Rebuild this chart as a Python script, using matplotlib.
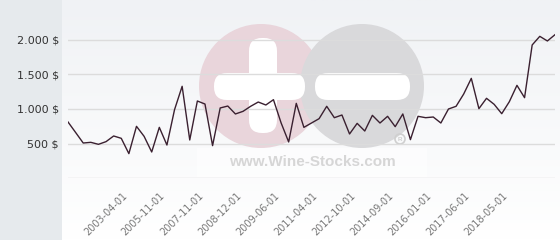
import matplotlib.pyplot as plt
import numpy as np
from matplotlib.patches import Circle, FancyBboxPatch, Rectangle

# prix, un point par cotation
prix = [812, 660, 507, 517, 488, 527, 609, 575, 353, 749,
        604, 377, 734, 478, 990, 1329, 551, 1116, 1072, 469,
        1015, 1043, 928, 966, 1039, 1101, 1058, 1135, 800, 522,
        1082, 734, 797, 860, 1039, 874, 913, 638, 792, 681,
        908, 797, 894, 744, 928, 556, 894, 874, 884, 797,
        1000, 1039, 1217, 1444, 1005, 1155, 1068, 932, 1106, 1343,
        1164, 1928, 2053, 1986, 2077]
pos_ticks = [8, 13, 18, 23, 28, 33, 38, 43, 48, 53, 58]
dates_ticks = ['2003-04-01', '2005-11-01', '2007-11-01', '2008-12-01', '2009-06-01',
               '2011-04-01', '2012-10-01', '2014-09-01', '2016-01-01', '2017-06-01',
               '2018-05-01']
y_ticks = [0, 500, 1000, 1500, 2000]
y_labels = ['', '500 $', '1.000 $', '1.500 $', '2.000 $']

W, H = 560, 240
fig = plt.figure(figsize=(W/100, H/100), dpi=100)

# fond : degrade + bandeau gauche + filigrane
bg = fig.add_axes([0, 0, 1, 1], zorder=-10)
bg.set_xlim(0, W)
bg.set_ylim(H, 0)
bg.axis('off')
grad = np.linspace(0, 1, 100).reshape(-1, 1)
bg.imshow(grad, extent=[62, W, H, 0], cmap=plt.matplotlib.colors.LinearSegmentedColormap.from_list(
    'g', ['#f0f2f5', '#ffffff']), aspect='auto')
bg.add_patch(Rectangle((0, 0), 62, H, color='#e6eaed', lw=0))

bg.add_patch(Circle((261, 86), 62, color='#e9d5db', lw=0))
bg.add_patch(Circle((362, 86), 62, color='#d9d9db', lw=0))
bg.add_patch(FancyBboxPatch((249 + 13, 38 + 13), 28 - 26, 95 - 26,
                            boxstyle='round,pad=13', color='white', lw=0))
bg.add_patch(FancyBboxPatch((214 + 13, 73 + 13), 91 - 26, 27 - 26,
                            boxstyle='round,pad=13', color='white', lw=0))
bg.add_patch(FancyBboxPatch((315 + 13, 73 + 13), 95 - 26, 27 - 26,
                            boxstyle='round,pad=13', color='white', lw=0))
bg.add_patch(Rectangle((197, 148), 230, 29, color='white', alpha=0.5, lw=0))
bg.text(312, 162, 'www.Wine-Stocks.com', ha='center', va='center', fontsize=11,
        fontweight='bold', family='Liberation Sans', color='#d6d6d6')
bg.add_patch(Circle((400, 139), 5, fill=False, ec='#cfcfcf', lw=1.2))
bg.text(400, 139.5, 'R', ha='center', va='center', fontsize=4.5, fontweight='bold',
        family='Liberation Sans', color='#cfcfcf')

# graphique
ax = fig.add_axes([68/W, 62/H, (555 - 68)/W, (178 - 8)/H])
ax.patch.set_alpha(0)
ax.plot(range(len(prix)), prix, color='#3a2030', lw=1)
ax.set_xlim(0, len(prix) - 1)
ax.set_ylim(0, 2000 * 170 / 138)
ax.set_yticks(y_ticks)
ax.set_yticklabels(y_labels, fontsize=8, color='#333333')
ax.set_xticks(pos_ticks)
ax.set_xticklabels(dates_ticks, rotation=45, ha='right', fontsize=7, color='#777777')
ax.tick_params(axis='y', length=0, pad=6.5)
ax.tick_params(axis='x', length=0, pad=9)
ax.grid(axis='y', color='#dcdcdc', lw=1)
ax.set_axisbelow(True)
for s in ax.spines.values():
    s.set_visible(False)

fig.savefig('out.png', dpi=100)
